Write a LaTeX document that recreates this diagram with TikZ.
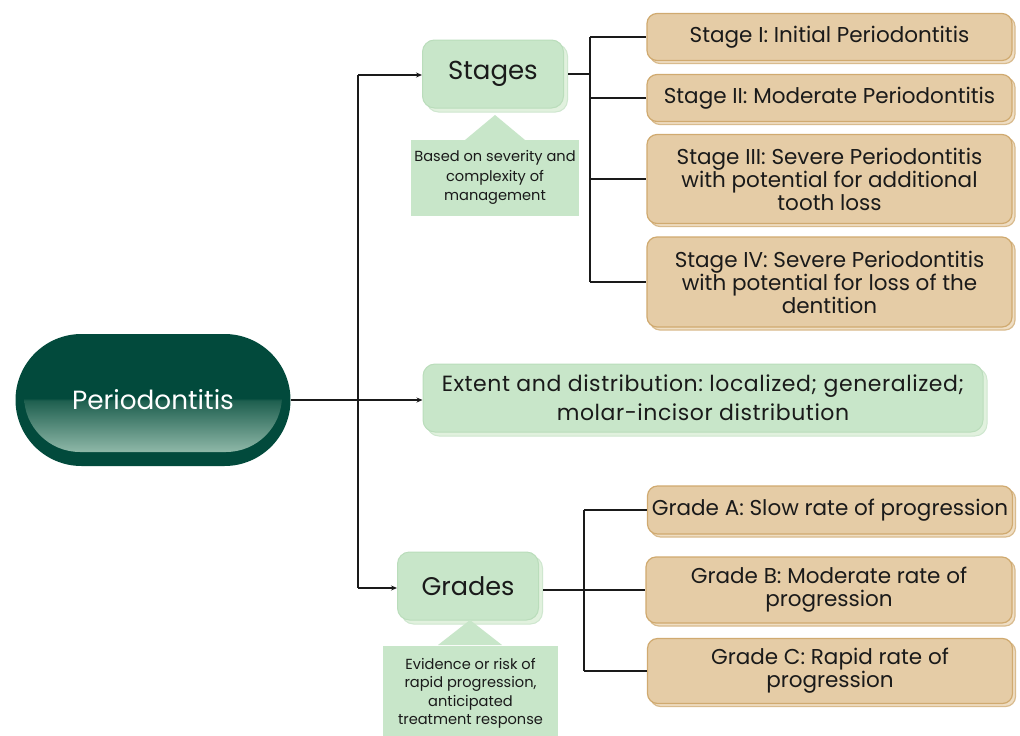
\documentclass[tikz,border=0pt]{standalone}
\usepackage{fontspec}
\setmainfont{Poppins}
\newfontfamily\widefont[LetterSpace=2.5]{Poppins}
\usetikzlibrary{shapes.misc,shadows,arrows.meta}
\definecolor{rootdark}{HTML}{024A3C}
\definecolor{rootmid}{HTML}{1E5F4F}
\definecolor{rootlight}{HTML}{8FB8A8}
\definecolor{grfill}{HTML}{C8E6C9}
\definecolor{grborder}{HTML}{BADDBB}
\definecolor{grshadow}{HTML}{E1F1DE}
\definecolor{tanfill}{HTML}{E5CCA6}
\definecolor{tanborder}{HTML}{D0AA70}
\definecolor{tanshadow}{HTML}{EFDEC4}
\definecolor{ink}{HTML}{1A1A1A}
\pgfdeclareverticalshading{rootshade}{100bp}{color(0bp)=(rootlight); color(25bp)=(rootlight); color(48bp)=(rootmid); color(49bp)=(rootdark); color(100bp)=(rootdark)}
\tikzset{
  greenbox/.style={draw=grborder, fill=grfill, line width=1, rounded corners=12, align=center, inner sep=0, text=ink,
    copy shadow={shadow xshift=4pt, shadow yshift=-4pt, fill=grshadow, draw=grborder!70}},
  tanbox/.style={draw=tanborder, fill=tanfill, line width=1.2, rounded corners=10, align=center, inner sep=0, text=ink,
    font=\frenchspacing\fontsize{21.5}{23}\selectfont,
    copy shadow={shadow xshift=3pt, shadow yshift=-3pt, fill=tanshadow, draw=tanborder!80}},
  callbox/.style={fill=grfill, align=center, inner sep=0, text=ink, font=\fontsize{14.6}{19.5}\selectfont},
  conn/.style={line width=1.3, draw=ink},
  arr/.style={conn, -{Stealth[length=6pt,width=5pt]}}
}
\begin{document}
\begin{tikzpicture}[x=1pt,y=-1pt]
\useasboundingbox (0,0) rectangle (1020,736);
\fill[white] (0,0) rectangle (1020,736);

% root
\node (root) [rounded rectangle, minimum width=275, minimum height=132, fill=rootdark, inner sep=0] at (153,400) {};
\node (rootin) [rounded rectangle, minimum width=258, minimum height=112, shading=rootshade, inner sep=0] at (153,396) {};
\node (roottext) at (153,400) [text=white, font=\fontsize{26.3}{30}\selectfont] {Periodontitis};

% stages
\node (stages) [greenbox, minimum width=141, minimum height=68, font=\fontsize{26}{30}\selectfont] at (493,74) {Stages};
\fill[grfill] (465,140) -- (495,115) -- (525,140) -- cycle;
\node (stcall) [callbox, minimum width=168, minimum height=76, text depth=4pt] at (495,177.5) {Based on severity and\\complexity of\\management};

% extent
\node (extent) [greenbox, minimum width=560, minimum height=68, font=\frenchspacing\widefont\fontsize{22}{29}\selectfont] at (703,398) {Extent and distribution: localized; generalized;\\molar-incisor distribution};

% grades
\node (grades) [greenbox, minimum width=141, minimum height=68, font=\fontsize{25.5}{30}\selectfont] at (468,586) {Grades};
\fill[grfill] (438,645) -- (470,620) -- (502,645) -- cycle;
\node (grcall) [callbox, minimum width=175, minimum height=95, font=\fontsize{14.6}{18.5}\selectfont] at (470.5,693.5) {Evidence or risk of\\rapid progression,\\anticipated\\treatment response};

% stage boxes
\node (s1) [tanbox, minimum width=365, minimum height=47] at (829.5,37) {Stage I: Initial Periodontitis};
\node (s2) [tanbox, minimum width=365, minimum height=47] at (829.5,98) {Stage II: Moderate Periodontitis};
\node (s3) [tanbox, minimum width=365, minimum height=89] at (829.5,179) {Stage III: Severe Periodontitis\\with potential for additional\\tooth loss};
\node (s4) [tanbox, minimum width=365, minimum height=90] at (829.5,282) {Stage IV: Severe Periodontitis\\with potential for loss of the\\dentition};

% grade boxes
\node (ga) [tanbox, minimum width=365, minimum height=48] at (830,510) {Grade A: Slow rate of progression};
\node (gb) [tanbox, minimum width=366, minimum height=66] at (829,590) {Grade B: Moderate rate of\\progression};
\node (gc) [tanbox, minimum width=365, minimum height=65] at (830,671) {Grade C: Rapid rate of\\progression};

% trunk
\coordinate (tj) at (358,400);
\coordinate (tt) at (358,75);
\coordinate (tb) at (358,588);
\draw[conn] (root.east) -- (tj);
\draw[conn] (tt) -- (tb);
\draw[arr] (tt) -- (stages.west |- tt);
\draw[arr] (tj) -- (extent.west |- tj);
\draw[arr] (tb) -- (grades.west |- tb);

% stage connectors
\coordinate (sj) at (590,74);
\draw[conn] ([xshift=4pt]stages.east) -- (sj);
\draw[conn] (590,37) -- (590,282);
\foreach \n in {s1,s2,s3,s4} \draw[conn] (590,0 |- \n.west) -- (\n.west);

% grade connectors
\coordinate (gj) at (584,590);
\draw[conn] ([xshift=4pt]grades.east |- gj) -- (gj);
\draw[conn] (584,510) -- (584,671);
\foreach \n in {ga,gb,gc} \draw[conn] (584,0 |- \n.west) -- (\n.west);
\end{tikzpicture}
\end{document}
